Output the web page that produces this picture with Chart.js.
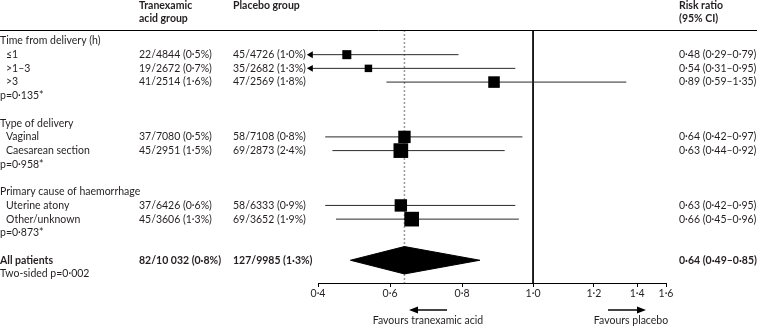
<!DOCTYPE html>
<html>
<head>
<meta charset="utf-8">
<script src="https://cdn.jsdelivr.net/npm/chart.js@4/dist/chart.umd.min.js"></script>
<style>
  body { margin: 0; background: #fff; }
  canvas { display: block; }
</style>
</head>
<body>
<canvas id="forest" width="757" height="327"></canvas>
<script>
// ============================
// Data
// ============================
const GROUPS = ["Time from delivery (h)", "Type of delivery", "Primary cause of haemorrhage"];
const GROUP_P = ["p=0·135*", "p=0·958*", "p=0·873*"];

const SUBGROUPS = ["≤1", ">1–3", ">3", "Vaginal", "Caesarean section", "Uterine atony", "Other/unknown"];
const SUB_GROUP = [0, 0, 0, 1, 1, 2, 2];
const TXA_TEXT = ["22/4844 (0·5%)", "19/2672 (0·7%)", "41/2514 (1·6%)", "37/7080 (0·5%)", "45/2951 (1·5%)", "37/6426 (0·6%)", "45/3606 (1·3%)"];
const PLC_TEXT = ["45/4726 (1·0%)", "35/2682 (1·3%)", "47/2569 (1·8%)", "58/7108 (0·8%)", "69/2873 (2·4%)", "58/6333 (0·9%)", "69/3652 (1·9%)"];
const RR = [0.48, 0.54, 0.89, 0.64, 0.63, 0.63, 0.66];
const CI_LOW = [0.29, 0.31, 0.59, 0.42, 0.44, 0.42, 0.45];
const CI_HIGH = [0.79, 0.95, 1.35, 0.97, 0.92, 0.95, 0.96];

const ALL_LABEL = "All patients";
const ALL_TXA = "82/10 032 (0·8%)";
const ALL_PLC = "127/9985 (1·3%)";
const ALL_RR = 0.64, ALL_LOW = 0.49, ALL_HIGH = 0.85;
const ALL_P = "Two-sided p=0·002";

const X_TICKS = [0.4, 0.6, 0.8, 1.0, 1.2, 1.4, 1.6];

// ============================
// Layout / style
// ============================
const FONT = "Lato";
const FS = 10.5;
const INK = "#231f20";
const COL_LABEL = 0, COL_INDENT = 6, COL_TXA = 139, COL_PLC = 233, COL_RR = 679;
// where each x tick sits along the axis (fraction of width) - the printed axis is not uniform
const TICK_POS = [0, 0.207, 0.414, 0.618, 0.793, 0.917, 1];
const ARROW_AT = 0.38;     // where truncated CIs end with an arrowhead
const DIAMOND_HALF = 1.0;  // in row units

const fmt = (v, d) => v.toFixed(d).replace(".", "·");

// ============================
// Row positions
// ============================
const rows = [];
const subRow = [];
let r = 0;
GROUPS.forEach((g, gi) => {
    rows.push({ y: r++, text: g });
    SUBGROUPS.forEach((s, i) => {
        if (SUB_GROUP[i] !== gi) return;
        subRow[i] = r;
        rows.push({ y: r++, text: s, indent: true, i: i });
    });
    rows.push({ y: r++, text: GROUP_P[gi] });
    r++;
});
const allRow = r;
rows.push({ y: r++, text: ALL_LABEL, bold: true, all: true });
rows.push({ y: r++, text: ALL_P });

// ============================
// Piecewise axis like the printed one
// ============================
function warp(v) {
    const n = X_TICKS.length;
    let k = 0;
    if (v >= X_TICKS[n - 1]) k = n - 2;
    else if (v > X_TICKS[0]) while (v > X_TICKS[k + 1]) k++;
    const t = (v - X_TICKS[k]) / (X_TICKS[k + 1] - X_TICKS[k]);
    return TICK_POS[k] + t * (TICK_POS[k + 1] - TICK_POS[k]);
}

class ForestScale extends Chart.LinearScale {
    getPixelForValue(v) {
        return this.left + warp(v) * this.width;
    }
    getValueForPixel(px) {
        const f = (px - this.left) / this.width;
        let k = 0;
        while (k < TICK_POS.length - 2 && f > TICK_POS[k + 1]) k++;
        const t = (f - TICK_POS[k]) / (TICK_POS[k + 1] - TICK_POS[k]);
        return X_TICKS[k] + t * (X_TICKS[k + 1] - X_TICKS[k]);
    }
}
ForestScale.id = "forest";
ForestScale.defaults = Chart.LinearScale.defaults;
Chart.register(ForestScale);

// ============================
// Datasets
// ============================
const boxes = {
    data: RR.map((v, i) => ({ x: v, y: subRow[i] })),
    pointStyle: "rect",
    pointRadius: RR.map((v, i) => {
        const events = parseInt(TXA_TEXT[i]) + parseInt(PLC_TEXT[i]);
        return (0.12 * events + 1) / Math.SQRT2;
    }),
    backgroundColor: "#000",
    borderWidth: 0,
    clip: false
};

const diamond = {
    type: "line",
    data: [
        { x: ALL_LOW, y: allRow },
        { x: ALL_RR, y: allRow - DIAMOND_HALF },
        { x: ALL_HIGH, y: allRow },
        { x: ALL_RR, y: allRow + DIAMOND_HALF },
        { x: ALL_LOW, y: allRow }
    ],
    fill: "shape",
    backgroundColor: "#000",
    borderColor: "#000",
    borderWidth: 1,
    pointRadius: 0,
    tension: 0,
    clip: false
};

// truncated CIs: the arrowhead sits just left of the axis start, so give it
// a large hover radius to keep Chart.js from skipping it as out of area
const arrowRows = CI_LOW.map((v, i) => i).filter(i => CI_LOW[i] < X_TICKS[0]);
const arrowHeads = {
    data: arrowRows.map(i => ({ x: ARROW_AT, y: subRow[i] })),
    pointStyle: "triangle",
    pointRotation: -90,
    pointRadius: 4,
    pointHoverRadius: 12,
    pointBackgroundColor: "#000",
    pointBorderWidth: 0,
    clip: false
};

const ciLines = RR.map((v, i) => ({
    type: "line",
    data: [
        { x: Math.max(CI_LOW[i], ARROW_AT), y: subRow[i] },
        { x: CI_HIGH[i], y: subRow[i] }
    ],
    borderColor: "#2a2a2a",
    borderWidth: 1,
    pointRadius: 0,
    clip: false
}));

const yTop = -0.8, yBottom = 17.66;
const nullLine = {
    type: "line",
    data: [{ x: 1, y: yTop }, { x: 1, y: yBottom }],
    borderColor: "#000",
    borderWidth: 1,
    pointRadius: 0
};
const overallLine = {
    type: "line",
    data: [{ x: ALL_RR, y: yTop }, { x: ALL_RR, y: yBottom }],
    borderColor: "#9a9a9a",
    borderWidth: 1.5,
    borderDash: [2, 2],
    pointRadius: 0
};

// ============================
// Text columns
// ============================
const tablePlugin = {
    id: "table",
    afterDraw(chart) {
        const ctx = chart.ctx;
        const y = v => chart.scales.y.getPixelForValue(v);
        const area = chart.chartArea;
        ctx.save();
        ctx.fillStyle = INK;
        ctx.textBaseline = "middle";
        ctx.textAlign = "left";

        // header
        ctx.font = `bold ${FS}px ${FONT}`;
        ctx.fillText("Tranexamic", COL_TXA, 6);
        ctx.fillText("acid group", COL_TXA, 19);
        ctx.fillText("Placebo group", COL_PLC, 6);
        ctx.fillText("Risk ratio", COL_RR, 6);
        ctx.fillText("(95% CI)", COL_RR, 19);
        ctx.strokeStyle = "#000";
        ctx.lineWidth = 1;
        ctx.beginPath();
        ctx.moveTo(0, Math.round(area.top) + 0.5);
        ctx.lineTo(chart.width, Math.round(area.top) + 0.5);
        ctx.stroke();

        rows.forEach(row => {
            const py = y(row.y);
            ctx.font = `${row.bold ? "bold " : ""}${FS}px ${FONT}`;
            ctx.fillText(row.text, row.indent ? COL_INDENT : COL_LABEL, py);
            if (row.indent) {
                const i = row.i;
                ctx.fillText(TXA_TEXT[i], COL_TXA, py);
                ctx.fillText(PLC_TEXT[i], COL_PLC, py);
                ctx.fillText(`${fmt(RR[i], 2)} (${fmt(CI_LOW[i], 2)}–${fmt(CI_HIGH[i], 2)})`, COL_RR, py);
            }
            if (row.all) {
                ctx.fillText(ALL_TXA, COL_TXA, py);
                ctx.fillText(ALL_PLC, COL_PLC, py);
                ctx.fillText(`${fmt(ALL_RR, 2)} (${fmt(ALL_LOW, 2)}–${fmt(ALL_HIGH, 2)})`, COL_RR, py);
            }
        });

        // favours arrows
        ctx.font = `${FS}px ${FONT}`;
        ctx.textAlign = "center";
        ctx.fillText("Favours tranexamic acid", 428, 321);
        ctx.fillText("Favours placebo", 631, 321);
        ctx.strokeStyle = "#444";
        ctx.fillStyle = "#000";
        ctx.lineWidth = 2;
        ctx.beginPath();
        ctx.moveTo(447, 310); ctx.lineTo(416, 310);
        ctx.moveTo(608, 310); ctx.lineTo(639, 310);
        ctx.stroke();
        ctx.beginPath();
        ctx.moveTo(409, 310); ctx.lineTo(418, 306.5); ctx.lineTo(418, 313.5); ctx.closePath();
        ctx.moveTo(646, 310); ctx.lineTo(637, 306.5); ctx.lineTo(637, 313.5); ctx.closePath();
        ctx.fill();
        ctx.restore();
    }
};

// ============================
// Chart
// ============================
new Chart(document.getElementById("forest"), {
    type: "scatter",
    data: { datasets: [boxes, diamond, arrowHeads, ...ciLines, nullLine, overallLine] },
    options: {
        responsive: false,
        animation: false,
        events: [],
        layout: { padding: { left: 318, right: 91, top: 30, bottom: 0 } },
        plugins: { legend: { display: false }, tooltip: { enabled: false } },
        scales: {
            x: {
                type: "forest",
                min: 0.4,
                max: 1.6,
                afterBuildTicks: axis => { axis.ticks = X_TICKS.map(v => ({ value: v })); },
                afterFit: axis => { axis.height = 44; },
                grid: { drawOnChartArea: false, drawTicks: true, tickLength: 4, color: "#000" },
                border: { display: true, color: "#000", width: 1 },
                ticks: {
                    padding: 0,
                    color: INK,
                    font: { family: FONT, size: FS },
                    maxRotation: 0,
                    autoSkip: false,
                    callback: v => fmt(v, 1)
                }
            },
            y: {
                type: "linear",
                display: false,
                reverse: true,
                min: yTop,
                max: yBottom
            }
        }
    },
    plugins: [tablePlugin]
});
</script>
</body>
</html>
